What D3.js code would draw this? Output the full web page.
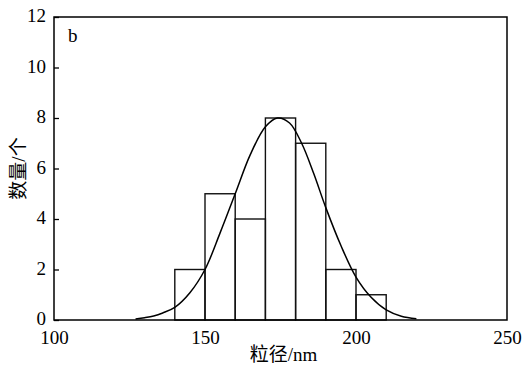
<!DOCTYPE html>
<html>
<head>
<meta charset="utf-8">
<script src="https://cdn.jsdelivr.net/npm/d3@7"></script>
<style>
  body { margin: 0; background: #fff; }
</style>
</head>
<body>
<div id="chart"></div>
<script>
// histogram bins (nm) and counts
const binStarts = [140, 150, 160, 170, 180, 190, 200];
const binWidth = 10;
const counts = [2, 5, 4, 8, 7, 2, 1];

// fitted curve
const curveX = [127, 130, 133, 136, 140, 145, 150, 155, 160, 165, 170, 174, 178, 182, 186, 190, 195, 200, 205, 210, 215, 220];
const curveY = [0.04, 0.09, 0.16, 0.28, 0.5, 1.08, 2.0, 3.45, 5.0, 6.55, 7.65, 8.0, 7.8, 7.0, 5.8, 4.45, 2.95, 1.7, 0.9, 0.4, 0.15, 0.05];

const xTicks = [100, 150, 200, 250];
const yTicks = [0, 2, 4, 6, 8, 10, 12];

const serif = "'Liberation Serif', 'DejaVu Serif', serif";
const cjk = "'Liberation Serif', 'Noto Sans CJK SC', serif";

const width = 526, height = 367;
const margin = { left: 54, right: 19, top: 17, bottom: 47 };
const w = width - margin.left - margin.right;
const h = height - margin.top - margin.bottom;

const svg = d3.select("#chart")
    .append("svg")
    .attr("width", width)
    .attr("height", height)
    .append("g")
    .attr("transform", "translate(" + margin.left + "," + margin.top + ")");

const x = d3.scaleLinear().domain([100, 250]).range([0, w]);
const y = d3.scaleLinear().domain([0, 12]).range([h, 0]);

// bars
svg.selectAll(".bar")
    .data(binStarts)
    .enter().append("rect")
    .attr("class", "bar")
    .attr("x", d => x(d))
    .attr("y", (d, i) => y(counts[i]))
    .attr("width", d => x(d + binWidth) - x(d))
    .attr("height", (d, i) => h - y(counts[i]))
    .attr("fill", "none")
    .attr("stroke", "#111")
    .attr("stroke-width", 1.4);

// curve
const line = d3.line()
    .x(d => x(d[0]))
    .y(d => y(d[1]))
    .curve(d3.curveCatmullRom);

svg.append("path")
    .datum(curveX.map((v, i) => [v, curveY[i]]))
    .attr("d", line)
    .attr("fill", "none")
    .attr("stroke", "#000")
    .attr("stroke-width", 1.5);

// frame
svg.append("rect")
    .attr("width", w)
    .attr("height", h)
    .attr("fill", "none")
    .attr("stroke", "#000")
    .attr("stroke-width", 1.5);

// y axis, inward ticks
const yAxis = svg.append("g")
    .call(d3.axisLeft(y).tickValues(yTicks).tickSizeInner(-5).tickSizeOuter(0).tickPadding(8));
yAxis.attr("font-family", serif).attr("font-size", 19);
yAxis.select(".domain").remove();
yAxis.selectAll("line").attr("stroke", "#000").attr("stroke-width", 1.3);
yAxis.selectAll("text").attr("fill", "#000").attr("dy", "0.26em");

// x axis, labels only
const xAxis = svg.append("g")
    .attr("transform", "translate(0," + h + ")")
    .call(d3.axisBottom(x).tickValues(xTicks).tickSize(0).tickPadding(11));
xAxis.attr("font-family", serif).attr("font-size", 19);
xAxis.select(".domain").remove();
xAxis.selectAll("text").attr("fill", "#000");

// panel letter
svg.append("text")
    .attr("x", 14)
    .attr("y", 25)
    .style("font-family", serif)
    .style("font-size", "19px")
    .text("b");

// axis titles
svg.append("text")
    .attr("x", x(176))
    .attr("y", h + 41)
    .attr("text-anchor", "middle")
    .style("font-family", cjk)
    .style("font-size", "19px")
    .text("粒径/nm");

svg.append("text")
    .attr("transform", "translate(" + (-29) + "," + (h / 2) + ") rotate(-90)")
    .attr("text-anchor", "middle")
    .style("font-family", cjk)
    .style("font-size", "19px")
    .text("数量/个");
</script>
</body>
</html>
